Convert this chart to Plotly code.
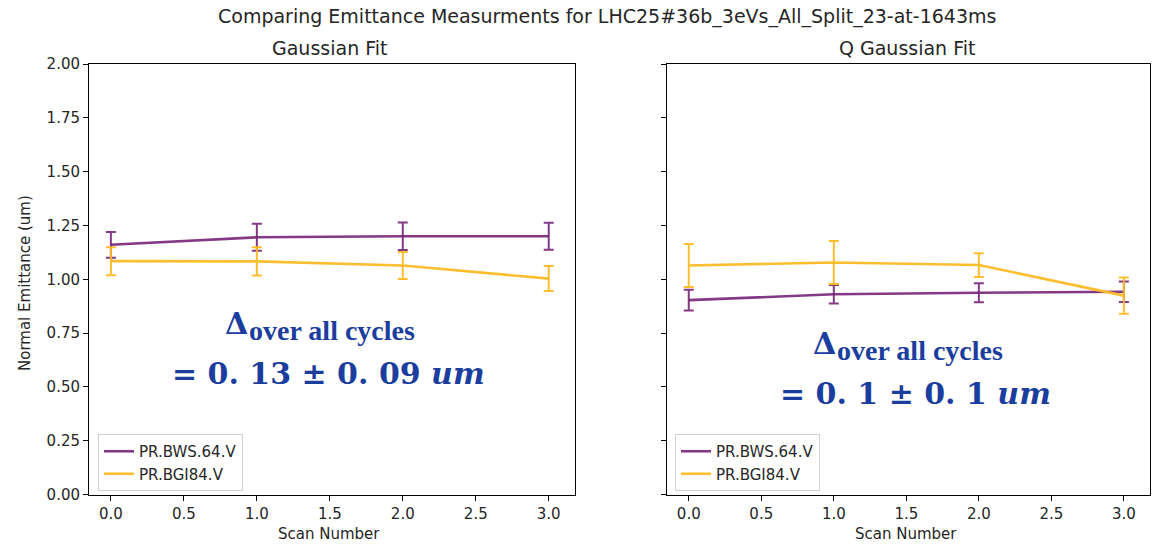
import plotly.graph_objects as go

W, H = 1163, 545

scans = [0, 1, 2, 3]
# Gaussian fit
g_bws = [1.16, 1.195, 1.20, 1.20]
g_bws_err = [0.06, 0.063, 0.064, 0.063]
g_bgi = [1.084, 1.083, 1.064, 1.003]
g_bgi_err = [0.065, 0.066, 0.063, 0.058]
# Q Gaussian fit
q_bws = [0.903, 0.93, 0.937, 0.942]
q_bws_err = [0.048, 0.043, 0.044, 0.048]
q_bgi = [1.064, 1.078, 1.066, 0.924]
q_bgi_err = [0.10, 0.10, 0.055, 0.084]

names = ["PR.BWS.64.V", "PR.BGI84.V"]
x_ticks = [0, 0.5, 1, 1.5, 2, 2.5, 3]
x_tick_text = ["0.0", "0.5", "1.0", "1.5", "2.0", "2.5", "3.0"]
y_ticks = [0, 0.25, 0.5, 0.75, 1, 1.25, 1.5, 1.75, 2]

PURPLE = "rgba(118,36,120,0.9)"
YELLOW = "rgba(252,186,36,0.95)"

fig = go.Figure()

def add(x, y, e, name, color, xa, ya, leg):
    fig.add_trace(go.Scatter(
        x=x, y=y, mode="lines", name=name, legend=leg,
        line=dict(color=color, width=2.6),
        error_y=dict(type="data", array=e, visible=True, color=color,
                     thickness=2, width=5),
        xaxis=xa, yaxis=ya))

add(scans, g_bws, g_bws_err, names[0], PURPLE, "x", "y", "legend")
add(scans, g_bgi, g_bgi_err, names[1], YELLOW, "x", "y", "legend")
add(scans, q_bws, q_bws_err, names[0], PURPLE, "x2", "y2", "legend2")
add(scans, q_bgi, q_bgi_err, names[1], YELLOW, "x2", "y2", "legend2")

def px(x): return x / W
def py(y): return 1 - y / H

FONT = "DejaVu Sans"
TXT = "#262626"
axis_common = dict(showline=True, linecolor="black", linewidth=1, mirror=True,
                   ticks="outside", ticklen=5, tickcolor="black", showgrid=False,
                   zeroline=False, automargin=False,
                   tickfont=dict(family=FONT, size=15, color=TXT))

fig.update_layout(
    width=W, height=H, margin=dict(l=0, r=0, t=0, b=0),
    plot_bgcolor="white", paper_bgcolor="white",
    font=dict(family=FONT, color=TXT),
    showlegend=True,
    xaxis=dict(domain=[px(89), px(575)], range=[-0.15, 3.18], tickvals=x_ticks,
               ticktext=x_tick_text, anchor="y", **axis_common),
    yaxis=dict(domain=[py(494.5), py(64)], range=[0, 2], tickvals=y_ticks,
               tickformat=".2f", anchor="x", **axis_common),
    xaxis2=dict(domain=[px(667), px(1150)], range=[-0.15, 3.18], tickvals=x_ticks,
                ticktext=x_tick_text, anchor="y2", **axis_common),
    yaxis2=dict(domain=[py(494.5), py(64)], range=[0, 2], tickvals=y_ticks,
                showticklabels=False, anchor="x2", matches="y", **axis_common),
    legend=dict(x=px(98), y=py(434), xanchor="left", yanchor="top", bgcolor="white",
                bordercolor="#d0d0d0", borderwidth=1, font=dict(family=FONT, size=15, color=TXT),
                tracegroupgap=0, itemwidth=30),
    legend2=dict(x=px(675), y=py(434), xanchor="left", yanchor="top", bgcolor="white",
                 bordercolor="#d0d0d0", borderwidth=1, font=dict(family=FONT, size=15, color=TXT),
                 tracegroupgap=0, itemwidth=30),
)

ann = []
ann.append(dict(text="Comparing Emittance Measurments for LHC25#36b_3eVs_All_Split_23-at-1643ms",
                x=px(607), y=py(16), font=dict(size=19, family=FONT, color=TXT)))
ann.append(dict(text="Gaussian Fit", x=px(329), y=py(48), font=dict(size=19, family=FONT, color=TXT)))
ann.append(dict(text="Q Gaussian Fit", x=px(907), y=py(48), font=dict(size=19, family=FONT, color=TXT)))
ann.append(dict(text="Scan Number", x=px(329), y=py(534), font=dict(size=15, family=FONT, color=TXT)))
ann.append(dict(text="Scan Number", x=px(906), y=py(534), font=dict(size=15, family=FONT, color=TXT)))
ann.append(dict(text="Normal Emittance (um)", x=px(25), y=py(283), textangle=-90,
                font=dict(size=15, family=FONT, color=TXT)))

BLUE = "#1b3e9e"
def delta_block(xd, yd, xs, ys, x2, y2, val):
    ann.append(dict(text="<b>Δ</b>", x=px(xd), y=py(yd),
                    font=dict(size=30, family="DejaVu Serif", color=BLUE)))
    ann.append(dict(text="<b>over all cycles</b>", x=px(xs), y=py(ys), xanchor="left",
                    font=dict(size=28, family="Liberation Serif", color=BLUE)))
    ann.append(dict(text="<b>" + val + "</b>", x=px(x2), y=py(y2),
                    font=dict(size=30, family="DejaVu Serif", color=BLUE)))

delta_block(236.5, 323, 247, 330.5, 328.8, 373, "= 0. 13 ± 0. 09 <i>um</i>")
delta_block(824, 343, 835, 350.6, 915.8, 393, "= 0. 1 ± 0. 1 <i>um</i>")

for a in ann:
    a.update(xref="paper", yref="paper", showarrow=False)
    a.setdefault("xanchor", "center")
    a["yanchor"] = "middle"
fig.update_layout(annotations=ann)

fig.write_html("out.html")
